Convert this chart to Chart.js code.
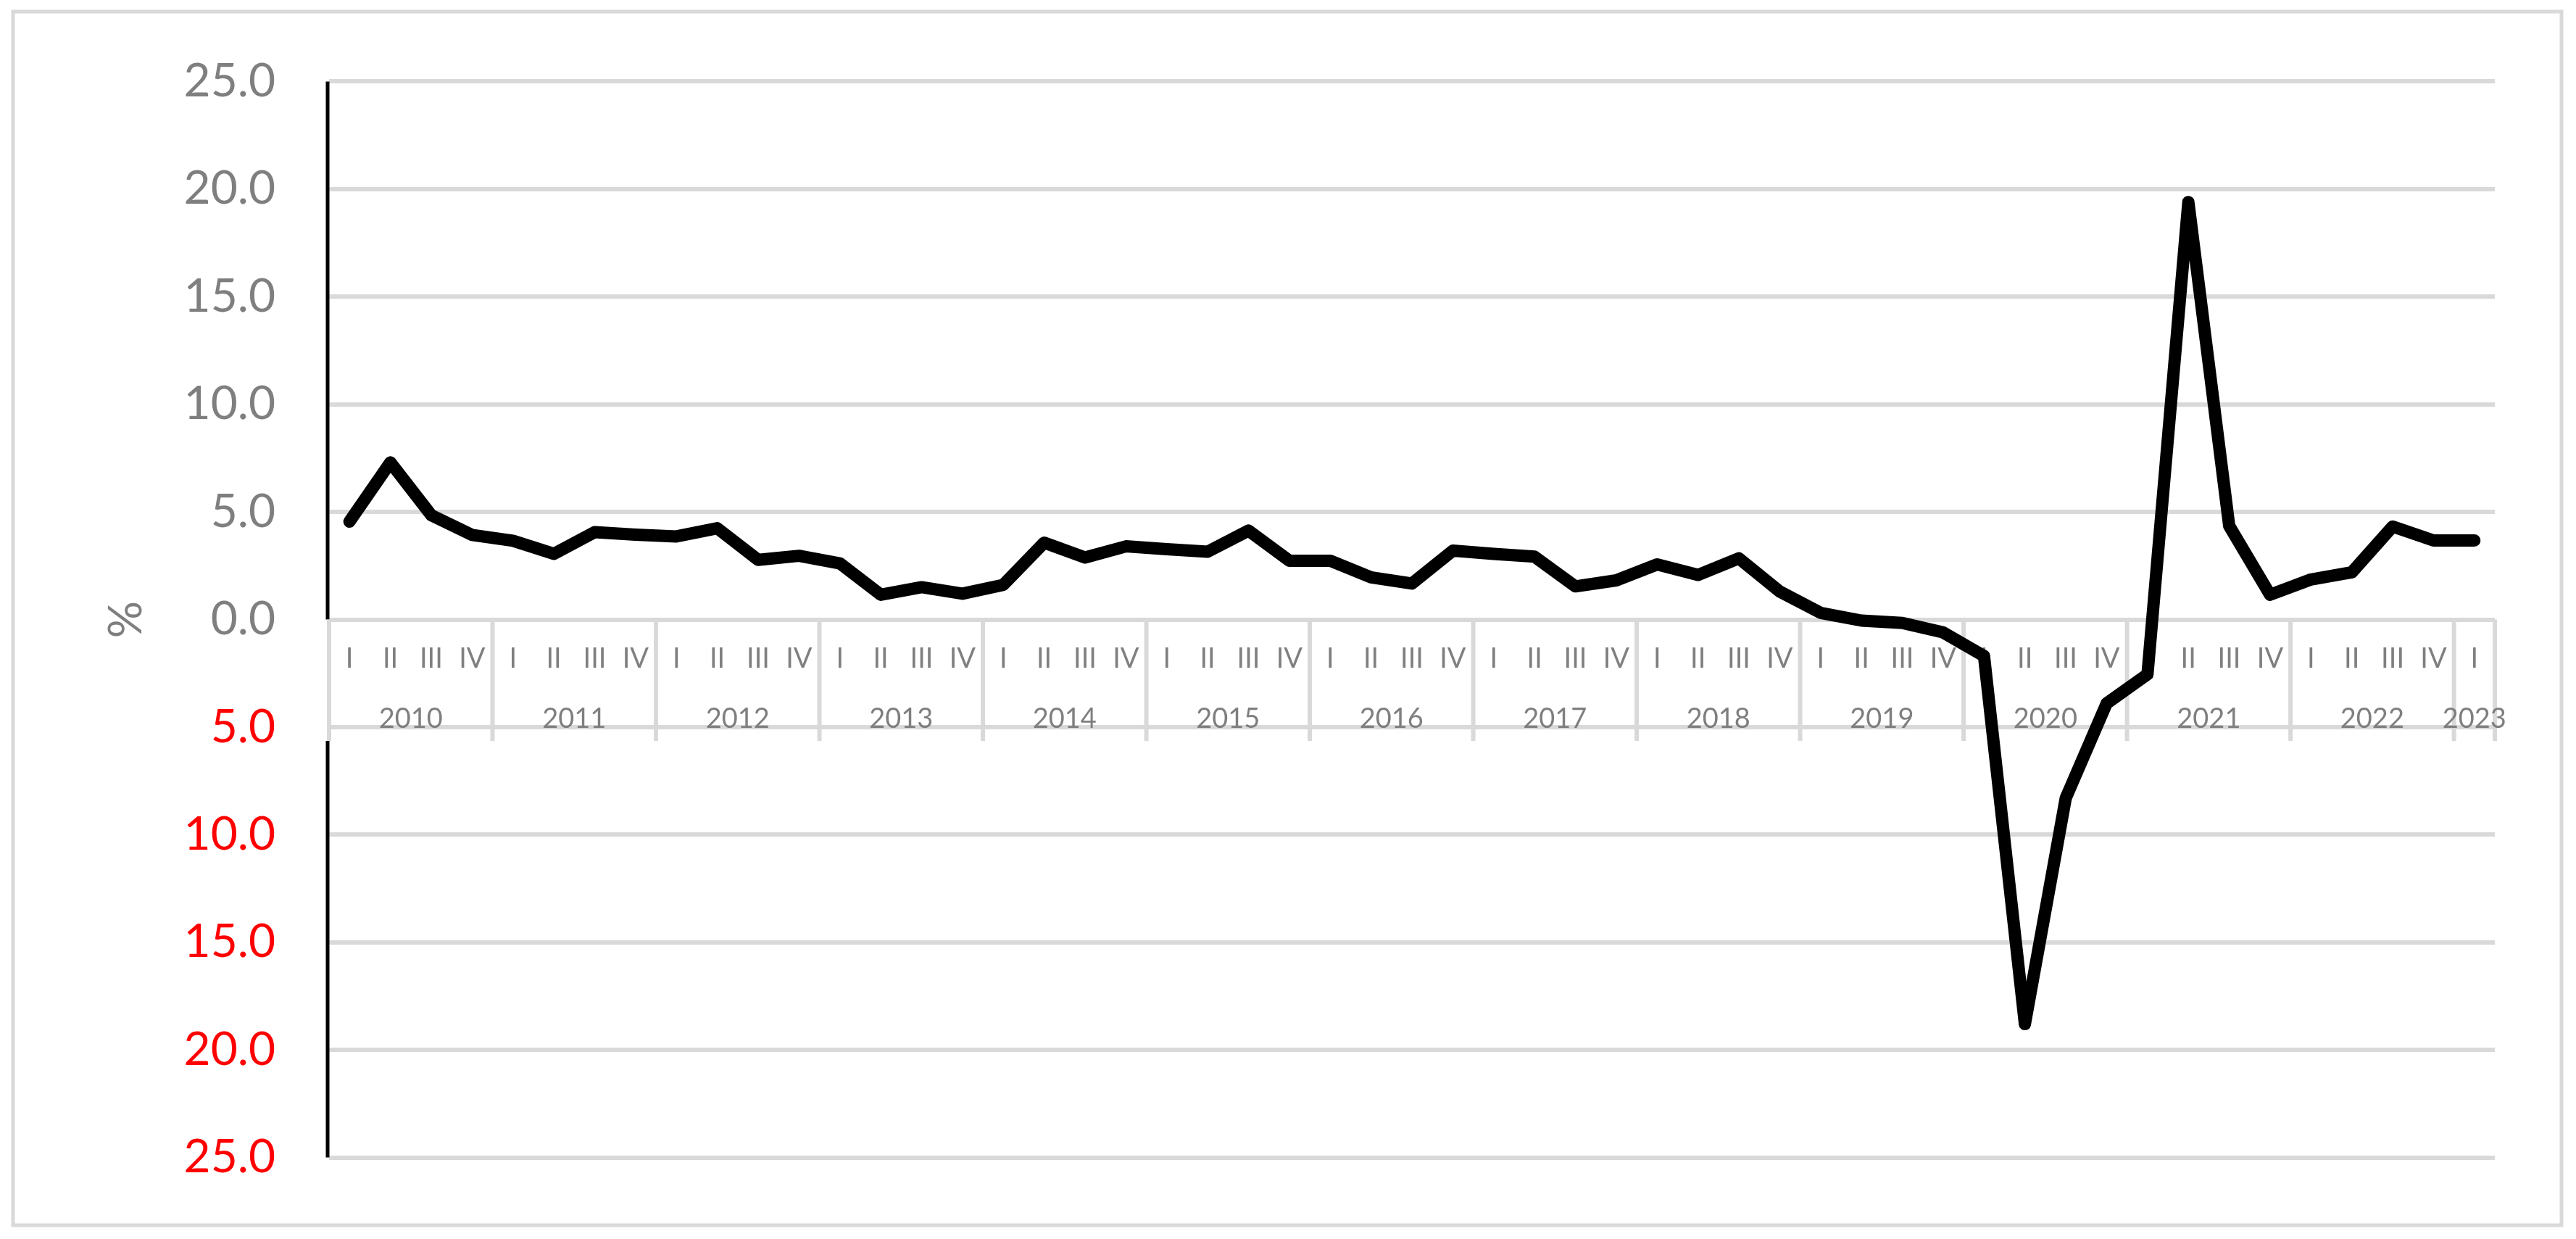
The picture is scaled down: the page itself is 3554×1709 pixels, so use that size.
<!DOCTYPE html>
<html>
<head>
<meta charset="utf-8">
<script src="https://cdn.jsdelivr.net/npm/chart.js@4.4.1/dist/chart.umd.min.js"></script>
<style>
  html, body { margin: 0; padding: 0; background: #fff; }
  #wrap { width: 3554px; height: 1709px; }
</style>
</head>
<body>
<div id="wrap"><canvas id="growth-chart" width="3554" height="1709"></canvas></div>
<script>
// quarterly labels, 2010 I .. 2023 I
const quarterLabels = [
  'I','II','III','IV', 'I','II','III','IV', 'I','II','III','IV', 'I','II','III','IV',
  'I','II','III','IV', 'I','II','III','IV', 'I','II','III','IV', 'I','II','III','IV',
  'I','II','III','IV', 'I','II','III','IV', 'I','II','III','IV', 'I','II','III','IV',
  'I','II','III','IV', 'I'
];
const yearLabels = ['2010','2011','2012','2013','2014','2015','2016','2017','2018','2019','2020','2021','2022','2023'];
const quartersPerYear = [4,4,4,4,4,4,4,4,4,4,4,4,4,1];

// % change
const growthValues = [
  4.55, 7.30, 4.85, 3.93,
  3.66, 3.05, 4.06, 3.94,
  3.86, 4.24, 2.77, 2.96,
  2.61, 1.15, 1.50, 1.20,
  1.61, 3.57, 2.88, 3.40,
  3.27, 3.15, 4.13, 2.73,
  2.73, 1.96, 1.67, 3.20,
  3.05, 2.92, 1.54, 1.82,
  2.56, 2.07, 2.84, 1.30,
  0.31, -0.05, -0.16, -0.60,
  -1.70, -18.80, -8.30, -3.90,
  -2.55, 19.40, 4.35, 1.15,
  1.86, 2.19, 4.32, 3.67,
  3.67
];

const yMin = -25, yMax = 25, yStep = 5;

const GRID = '#D9D9D9';
const LABEL_GRAY = '#7F7F7F';
const FONT = 'Lato, "Open Sans", sans-serif';

// frame, custom category box at y = 0, split y axis line
const axisDecor = {
  id: 'axisDecor',
  beforeDraw(chart) {
    const ctx = chart.ctx;
    ctx.save();
    ctx.fillStyle = '#fff';
    ctx.fillRect(0, 0, chart.width, chart.height);
    ctx.strokeStyle = GRID;
    ctx.lineWidth = 5;
    ctx.strokeRect(18, 16, 3516, 1674);
    ctx.restore();
  },
  beforeDatasetsDraw(chart) {
    const {ctx, chartArea} = chart;
    const x = chart.scales.x, y = chart.scales.y;
    const y0 = y.getPixelForValue(0);
    const yBoxBottom = y.getPixelForValue(-5) + 19;
    ctx.save();

    // black y axis, broken by the label box
    ctx.strokeStyle = '#000';
    ctx.lineWidth = 5;
    ctx.beginPath();
    ctx.moveTo(chartArea.left - 2, chartArea.top);
    ctx.lineTo(chartArea.left - 2, y0);
    ctx.moveTo(chartArea.left - 2, yBoxBottom);
    ctx.lineTo(chartArea.left - 2, chartArea.bottom);
    ctx.stroke();

    // year separators
    ctx.strokeStyle = GRID;
    ctx.lineWidth = 6;
    let idx = 0;
    const bounds = [idx];
    quartersPerYear.forEach(n => { idx += n; bounds.push(idx); });
    ctx.beginPath();
    bounds.forEach(b => {
      const px = x.getPixelForValue(b - 0.5);
      ctx.moveTo(px, y0);
      ctx.lineTo(px, yBoxBottom);
    });
    ctx.stroke();

    // quarter labels
    ctx.fillStyle = LABEL_GRAY;
    ctx.font = '38px ' + FONT;
    ctx.textAlign = 'center';
    ctx.textBaseline = 'alphabetic';
    quarterLabels.forEach((q, i) => {
      ctx.fillText(q, x.getPixelForValue(i), y0 + 66);
    });

    // year labels
    for (let g = 0; g < yearLabels.length; g++) {
      const a = bounds[g], b = bounds[g + 1];
      const cx = (x.getPixelForValue(a - 0.5) + x.getPixelForValue(b - 0.5)) / 2;
      ctx.fillText(yearLabels[g], cx, y.getPixelForValue(-5) + 1);
    }
    ctx.restore();
  }
};

function draw() {
  new Chart(document.getElementById('growth-chart'), {
    type: 'line',
    data: {
      labels: quarterLabels,
      datasets: [{
        data: growthValues,
        borderColor: '#000',
        borderWidth: 17,
        borderCapStyle: 'round',
        borderJoinStyle: 'round',
        pointRadius: 0,
        tension: 0,
        fill: false
      }]
    },
    options: {
      responsive: false,
      animation: false,
      devicePixelRatio: 1,
      layout: { padding: { top: 106, right: 112, bottom: 112, left: 0 } },
      plugins: { legend: { display: false }, tooltip: { enabled: false } },
      scales: {
        x: {
          type: 'category',
          display: false,
          offset: true
        },
        y: {
          min: yMin,
          max: yMax,
          afterFit: s => { s.width = 454; },
          border: { display: false },
          grid: { color: GRID, lineWidth: 6, drawTicks: false },
          ticks: {
            stepSize: yStep,
            padding: 74,
            font: { family: FONT, size: 64 },
            color: c => (c.tick && c.tick.value < 0) ? '#FF0000' : LABEL_GRAY,
            callback: v => Math.abs(v).toFixed(1)
          },
          title: {
            display: true,
            text: '%',
            color: LABEL_GRAY,
            font: { family: FONT, size: 64 },
            padding: { top: 136, bottom: 0 }
          }
        }
      }
    },
    plugins: [axisDecor]
  });
}

Promise.all([
  document.fonts.load('64px Lato'),
  document.fonts.load('38px Lato')
]).then(draw, draw);
</script>
</body>
</html>
